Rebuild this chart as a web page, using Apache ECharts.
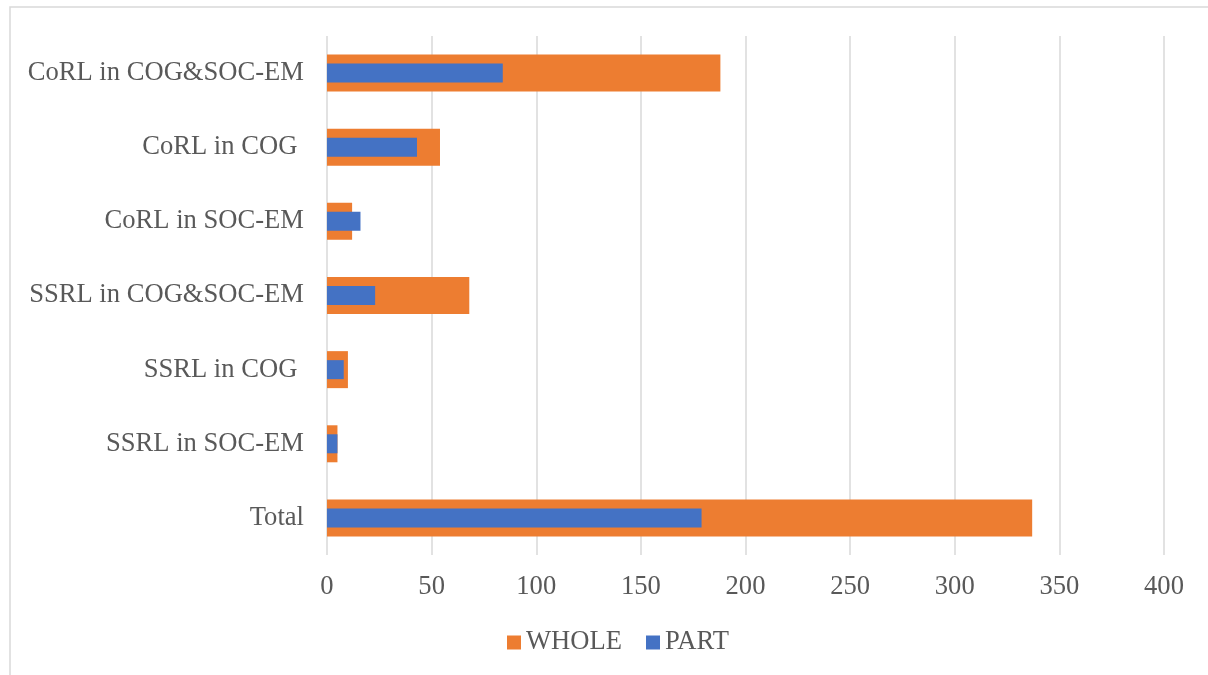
<!DOCTYPE html>
<html>
<head>
<meta charset="utf-8">
<script src="https://cdn.jsdelivr.net/npm/echarts@6/dist/echarts.min.js"></script>
<style>
html,body{margin:0;padding:0;background:#fff;}
#chart{width:1208px;height:675px;}
</style>
</head>
<body>
<div id="chart"></div>
<script>
// categories top to bottom (trailing spaces as in original labels)
var categories = ['CoRL in COG&SOC-EM','CoRL in COG ','CoRL in SOC-EM','SSRL in COG&SOC-EM','SSRL in COG ','SSRL in SOC-EM','Total'];
var wholeVals = [188, 54, 12, 68, 10, 5, 337];
var partVals = [84, 43, 16, 23, 8, 5, 179];
var xTicks = {min:0, max:400, step:50};

var font = '"Liberation Serif","Times New Roman",serif';
var grey = '#595959';
var fs = 26.6;

var myChart = echarts.init(document.getElementById('chart'));
var catAxis = function(show){
	return {
		type:'category',
		data:categories,
		inverse:true,
		show:show,
		axisLine:{show:false},
		axisTick:{show:false},
		axisLabel:{
			fontSize:fs,
			fontFamily:font,
			color:grey,
			margin:23
		}
	};
};
var option = {
	animation:false,
	backgroundColor:'#fff',
	graphic:[{
		type:'rect',
		shape:{x:10,y:7,width:1400,height:900},
		style:{fill:null,stroke:'#d9d9d9',lineWidth:1.5},
		silent:true
	}],
	grid:{left:327,right:44,top:36,bottom:120},
	legend:{
		data:['WHOLE','PART'],
		left:502,
		top:624,
		icon:'rect',
		itemWidth:14,
		itemHeight:14,
		itemGap:24,
		textStyle:{fontSize:fs,fontFamily:font,color:grey}
	},
	xAxis:{
		type:'value',
		min:xTicks.min,
		max:xTicks.max,
		interval:xTicks.step,
		axisLine:{show:false},
		axisTick:{show:false},
		splitLine:{lineStyle:{color:'#d9d9d9',width:1.5}},
		axisLabel:{fontSize:fs,fontFamily:font,color:grey,margin:19}
	},
	yAxis:[catAxis(true),catAxis(false)],
	series:[
		{
			name:'WHOLE',
			type:'bar',
			yAxisIndex:0,
			barWidth:37,
			itemStyle:{color:'#ED7D31'},
			data:wholeVals
		},
		{
			name:'PART',
			type:'bar',
			yAxisIndex:1,
			barWidth:19,
			itemStyle:{color:'#4472C4'},
			data:partVals
		}
	]
};
myChart.setOption(option,true);
</script>
</body>
</html>
